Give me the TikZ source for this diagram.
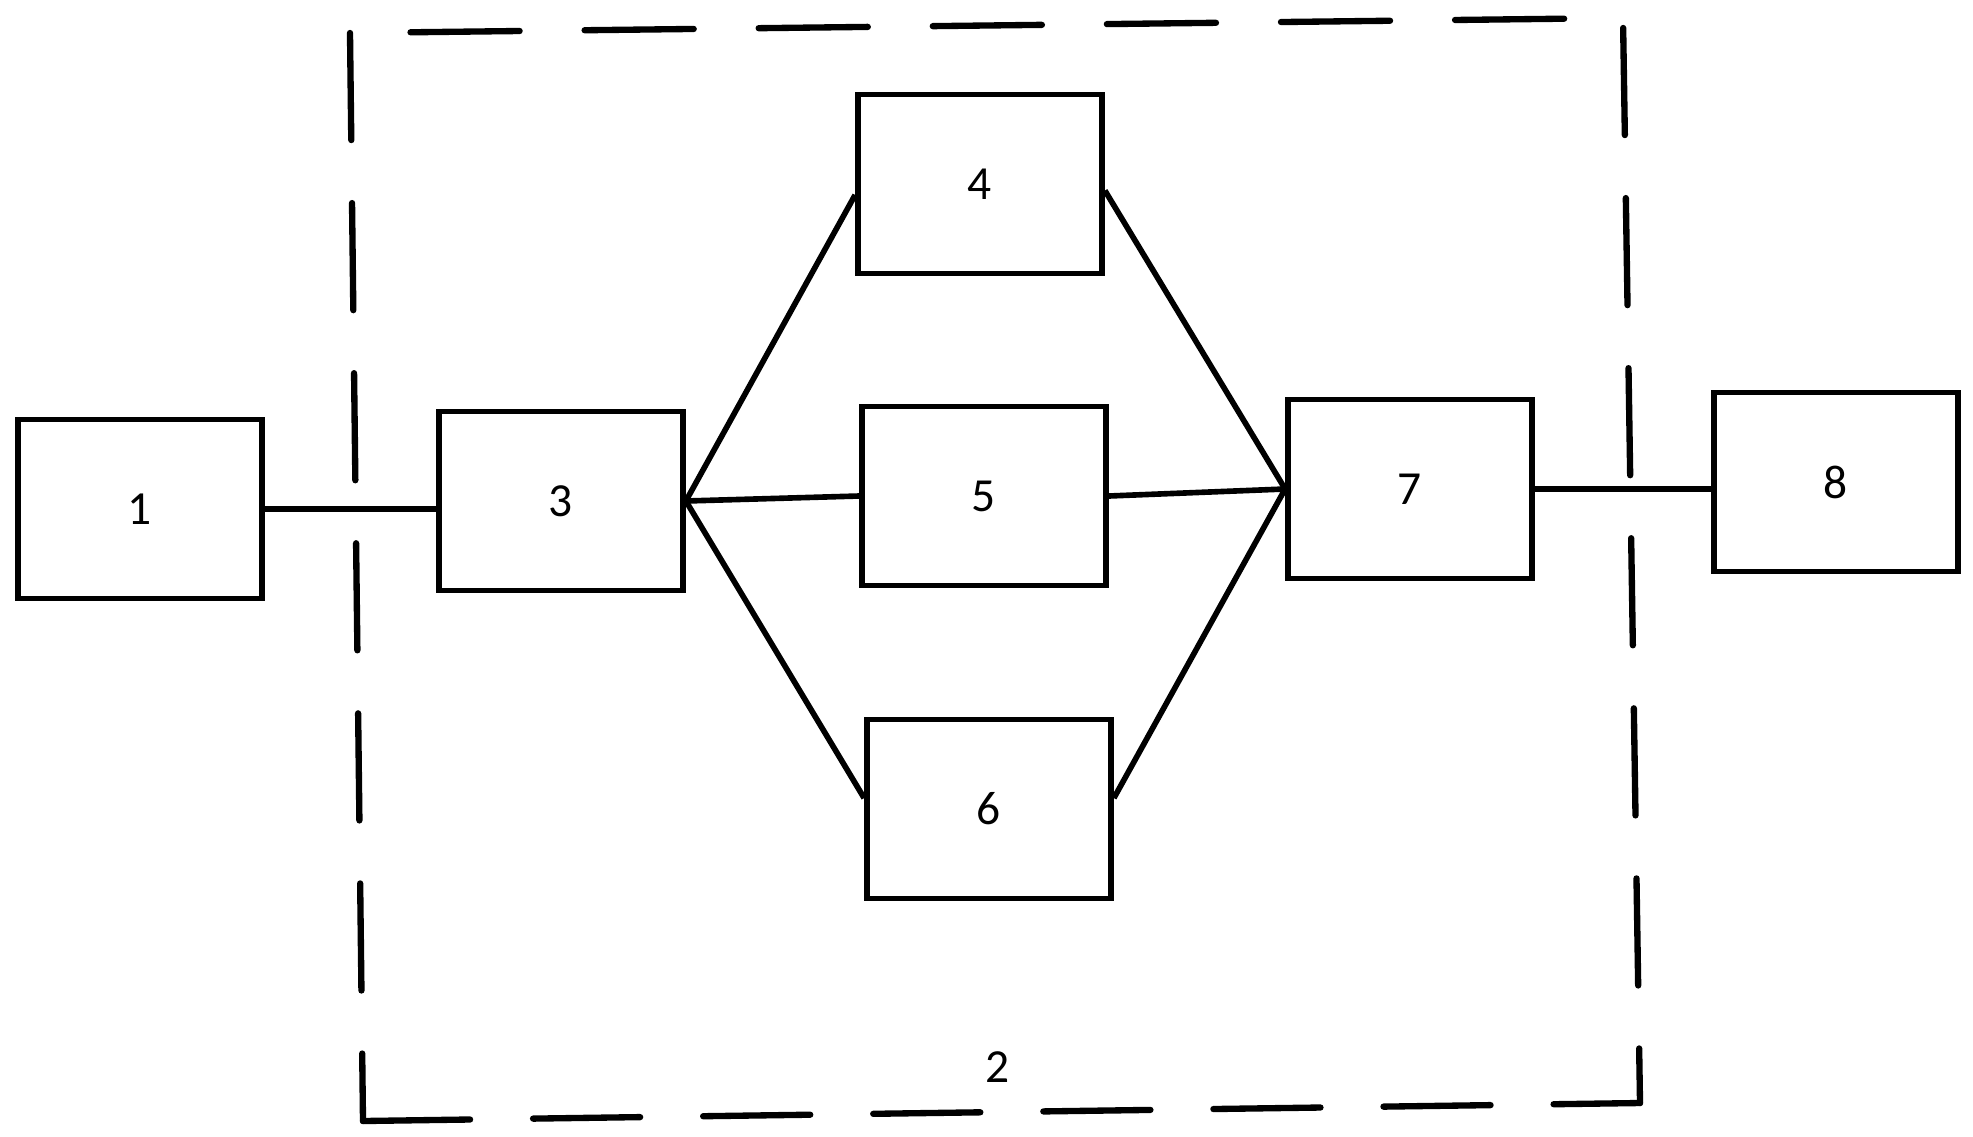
\documentclass[tikz,border=0pt]{standalone}
\usepackage{fontspec}
\setmainfont{Carlito}

\begin{document}
\begin{tikzpicture}[
      x=0.01cm, y=-0.01cm,
      unit/.style={rectangle, draw=black, line width=1.6pt, minimum width=2.44cm, minimum height=1.79cm, inner sep=0pt, font=\fontsize{13.5}{16}\selectfont},
      line/.style={draw, line width=1.6pt},
      frame/.style={draw, line width=1.8pt, line cap=round, dash pattern=on 1.07cm off 0.63cm},
      lbl/.style={font=\fontsize{13.5}{16}\selectfont, inner sep=1pt}
    ]
    \useasboundingbox (0,0) rectangle (1973,1136);
    % Blocks
    \node[unit] (b1) at (140,509) {1};
    \node[unit] (b3) at (561,501) {3};
    \node[unit] (b4) at (980,184) {4};
    \node[unit] (b5) at (984,496) {5};
    \node[unit] (b6) at (989,809) {6};
    \node[unit] (b7) at (1410,489) {7};
    \node[unit] (b8) at (1836,482) {8};

    % Dashed enclosure 2
    \coordinate (tl) at (350,33);
    \coordinate (tr) at (1623,18);
    \coordinate (bl) at (363,1121);
    \coordinate (br) at (1640,1103);
    \draw[frame] (tl) -- (bl);
    \draw[frame] (bl) -- (br);
    \draw[frame, dash phase=1.6cm] (tr) -- (br);
    \draw[frame, dash pattern=on 1.09cm off 0.65cm, dash phase=1.135cm] (tl) -- (tr);
    \node[lbl] (n2) at (998,1067) {2};

    % Connections
    \draw[line] (b1.east) -- (b1.east -| b3.west);
    \draw[line] (b3.east) -- (b4.185);
    \draw[line] (b3.east) -- (b5.west);
    \draw[line] (b3.east) -- (b6.175);
    \draw[line] (b4.357) -- (b7.west);
    \draw[line] (b5.east) -- (b7.west);
    \draw[line] (b6.5) -- (b7.west);
    \draw[line] (b7.east) -- (b7.east -| b8.west);
  \end{tikzpicture}
\end{document}
